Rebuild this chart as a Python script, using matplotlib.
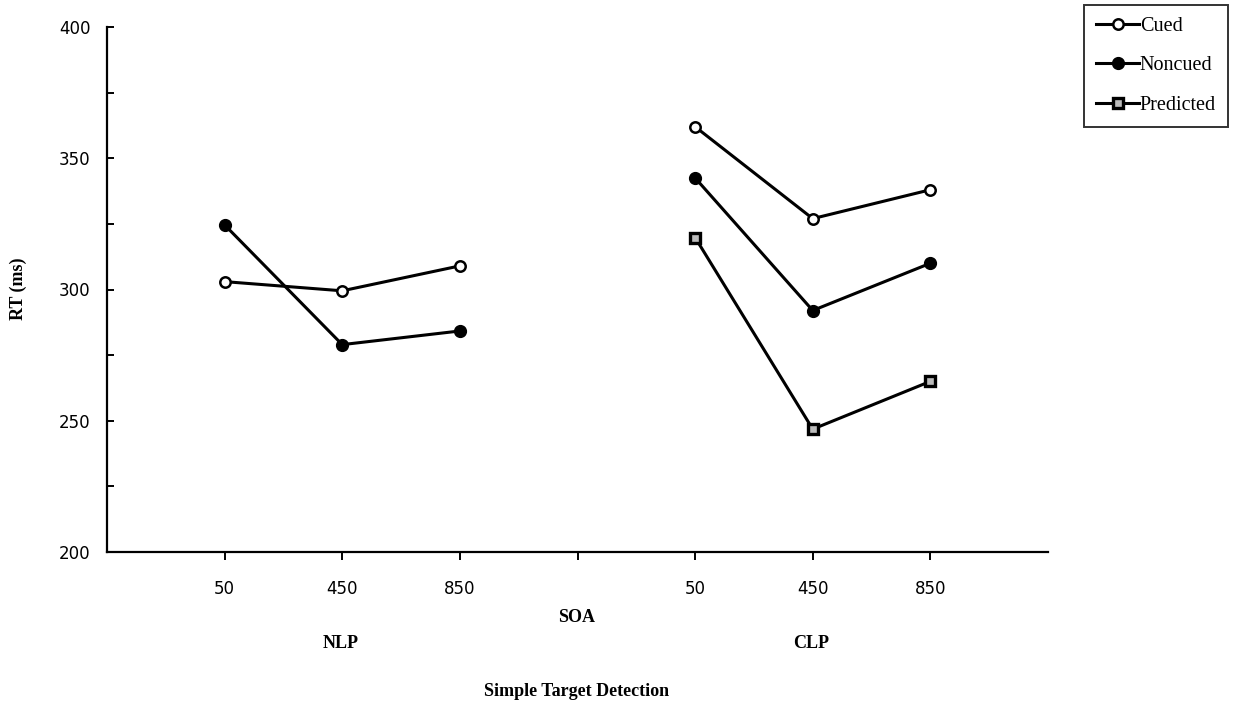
import matplotlib
matplotlib.use("Agg")
import matplotlib.pyplot as plt
from matplotlib.ticker import MultipleLocator

soa_labels = ["50", "450", "850"]
groups = ["NLP", "CLP"]
nlp_cued = [303, 299.5, 309]
nlp_noncued = [324.6, 279, 284.2]
clp_cued = [362, 327, 338]
clp_noncued = [342.5, 292, 310]
clp_predicted = [319.8, 246.8, 265]

nlp_x = [1, 2, 3]
clp_x = [5, 6, 7]

fig = plt.figure(figsize=(12.34, 7.13), dpi=100)
ax = fig.add_axes([107/1234, 1-552/713, (1048-107)/1234, (552-27)/713])

lw = 2.2
ms = 7.5
kw_c = dict(color="black", lw=lw, marker="o", ms=ms, mfc="white", mec="black", mew=1.8)
kw_n = dict(color="black", lw=lw, marker="o", ms=ms+1, mfc="black", mec="black")
kw_p = dict(color="black", lw=lw, marker="s", ms=ms, mfc="#bbbbbb", mec="black", mew=2.4)

ax.plot(nlp_x, nlp_noncued, **kw_n)
ax.plot(nlp_x, nlp_cued, **kw_c)
l1, = ax.plot(clp_x, clp_cued, label="Cued", **kw_c)
l2, = ax.plot(clp_x, clp_noncued, label="Noncued", **kw_n)
l3, = ax.plot(clp_x, clp_predicted, label="Predicted", **kw_p)

ax.set_xlim(0, 8)
ax.set_ylim(200, 400)
ax.set_xticks(nlp_x + [4] + clp_x)
ax.set_xticklabels(soa_labels + [""] + soa_labels)
ax.yaxis.set_major_locator(MultipleLocator(50))
ax.yaxis.set_minor_locator(MultipleLocator(25))
ax.spines["top"].set_visible(False)
ax.spines["right"].set_visible(False)
for s in ("left", "bottom"):
    ax.spines[s].set_linewidth(1.6)
ax.tick_params(axis="y", which="both", direction="in", length=5, width=1.4, pad=12)
ax.tick_params(axis="x", direction="out", length=6, width=1.4, pad=14)
for t in ax.get_xticklabels() + ax.get_yticklabels():
    t.set_fontfamily("DejaVu Sans")
    t.set_fontsize(12)

serif = "Liberation Serif"
fig.text(18/1234, 1-289/713, "RT (ms)", rotation=90, ha="center", va="center",
         fontfamily=serif, fontweight="bold", fontsize=13)
fig.text(577/1234, 1-617/713, "SOA", ha="center", va="center", fontfamily=serif, fontweight="bold", fontsize=13)
fig.text(341/1234, 1-644/713, groups[0], ha="center", va="center", fontfamily=serif, fontweight="bold", fontsize=13)
fig.text(811/1234, 1-644/713, groups[1], ha="center", va="center", fontfamily=serif, fontweight="bold", fontsize=13)
fig.text(577/1234, 1-692/713, "Simple Target Detection", ha="center", va="center", fontfamily=serif, fontweight="bold", fontsize=13)

leg = fig.legend(handles=[l1, l2, l3], loc="upper right", bbox_to_anchor=(1228/1234, 1-5/713),
                 prop={"family": serif, "size": 14.5}, frameon=True, fancybox=False,
                 edgecolor="black", handlelength=2.1, handletextpad=0.05, labelspacing=1.0,
                 borderpad=0.6, borderaxespad=0)
leg.get_frame().set_linewidth(1.4)

fig.savefig("out.png", dpi=100)
